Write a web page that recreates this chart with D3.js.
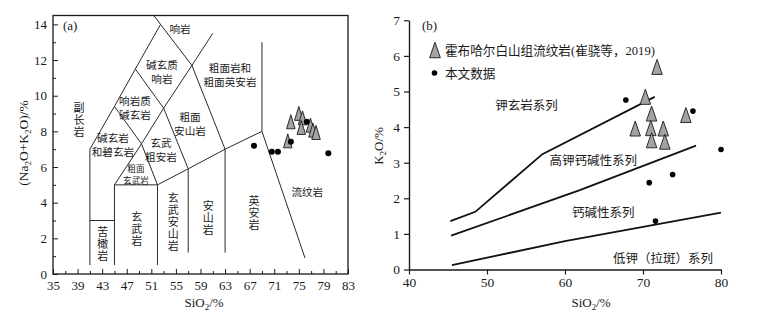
<!DOCTYPE html>
<html><head><meta charset="utf-8">
<script src="https://cdn.jsdelivr.net/npm/d3@7/dist/d3.min.js"></script>
<style>
body{margin:0;background:#fff;}
text{font-family:"Liberation Serif","Noto Sans CJK SC",serif;fill:#1a1a1a;}
.cjk{font-family:"Noto Sans CJK SC",sans-serif;}
.vert{writing-mode:vertical-rl;text-orientation:upright;}
</style></head>
<body>
<svg id="c" width="759" height="321"></svg>
<script>
// ---------- Data: chart (a) TAS ----------
const tasTriSiO2 = [73.7, 75.0, 75.6, 75.4, 76.9, 77.3, 77.8, 73.2];
const tasTriAlk  = [8.54, 9.01, 8.76, 8.22, 8.35, 8.07, 7.94, 7.47];
const tasDotSiO2 = [67.7, 70.6, 71.6, 73.7, 76.3, 79.8];
const tasDotAlk  = [7.19, 6.86, 6.86, 7.42, 8.54, 6.77];
const tasXTicks = [35,39,43,47,51,55,59,63,67,71,75,79,83];
const tasYTicks = [0,2,4,6,8,10,12,14];
// TAS field boundaries (SiO2, Na2O+K2O)
const tasBoundaries = [
  [[41,0.5],[41,7],[45,9.4],[48.4,11.5],[52.5,14]],
  [[41,3],[45,3]],
  [[45,0.5],[45,5],[52,5],[52,0.5]],
  [[45,5],[49.4,7.3],[52,5]],
  [[45,9.4],[49.4,7.3],[53,9.3],[57.6,11.7],[61,13.5]],
  [[48.4,11.5],[53,9.3],[57,5.9]],
  [[51.4,14.5],[52.5,14],[57.6,11.7],[63,7]],
  [[52,5],[57,5.9],[63,7],[69,8],[69,13]],
  [[57,5.9],[57,1.2]],
  [[63,7],[63,1.2]],
  [[69,8],[76,0.9]]
];
const tasFieldNames = ["响岩","碱玄质|响岩","副长岩","响岩质|碱玄岩","粗面|安山岩","碱玄岩|和碧玄岩",
  "玄武|粗安岩","粗面|玄武岩","苦橄岩","玄武岩","玄武安山岩","安山岩","英安岩","流纹岩","粗面岩和|粗面英安岩"];
const tasFieldVertical = [false,false,true,false,false,false,false,false,true,true,true,true,true,false,false];
const tasFieldAt = [[55.66,13.73],[52.73,11.3],[39.23,8.63],[48.34,9.3],[57.29,8.41],[44.76,7.23],
  [52.57,6.97],[48.5,5.55],[43.09,1.66],[48.62,2.49],[54.57,2.89],[60.27,3.12],[67.7,3.40],[76.38,4.61],[63.8,11.15]];

// ---------- Data: chart (b) K2O-SiO2 ----------
const kTriSiO2 = [71.8, 70.3, 71.1, 69.0, 71.0, 72.6, 71.1, 72.8, 75.5];
const kTriK2O  = [5.69, 4.85, 4.38, 3.96, 3.97, 3.96, 3.63, 3.59, 4.34];
const kDotSiO2 = [67.8, 76.4, 80.0, 73.8, 70.8, 71.6];
const kDotK2O  = [4.76, 4.45, 3.37, 2.67, 2.44, 1.36];
const kXTicks = [40,50,60,70,80];
const kYTicks = [0,1,2,3,4,5,6,7];
const kBoundaries = [
  [[45.3,1.36],[48.5,1.62],[57.1,3.24],[71.5,4.85]],
  [[45.4,0.95],[61.9,2.23],[76.8,3.48]],
  [[45.5,0.12],[60,0.8],[80,1.6]]
];
const kSeriesNames = ["钾玄岩系列","高钾钙碱性系列","钙碱性系列","低钾（拉斑）系列"];
const kSeriesAt = [[55.06,4.62],[63.63,3.07],[64.91,1.59],[72.56,0.31]];
const legendNames = ["霍布哈尔白山组流纹岩(崔骁等，2019)","本文数据"];

const svg = d3.select("#c");
const triFill = "#a3a3a3";
const labelFill = "#444";
function tri(cx, cy, w, h){
  return `M${cx},${cy-h/2}L${cx+w/2},${cy+h/2}L${cx-w/2},${cy+h/2}Z`;
}

// ================= Chart (a) =================
const xA = d3.scaleLinear().domain([35,83]).range([53,348]);
const yA = d3.scaleLinear().domain([0,14.5]).range([274,15.5]);
const gA = svg.append("g");

// minor ticks
gA.append("g").attr("transform","translate(0,274)")
  .call(d3.axisBottom(xA).tickValues(d3.range(37,83,4)).tickSize(-3).tickFormat(""))
  .call(g=>g.select(".domain").remove());
gA.append("g").attr("transform","translate(53,0)")
  .call(d3.axisLeft(yA).tickValues(d3.range(1,15,2)).tickSize(-3).tickFormat(""))
  .call(g=>g.select(".domain").remove());
// major axes
const axAx = gA.append("g").attr("transform","translate(0,274)")
  .call(d3.axisBottom(xA).tickValues(tasXTicks).tickSize(-5).tickPadding(7).tickFormat(d3.format("d")));
const axAy = gA.append("g").attr("transform","translate(53,0)")
  .call(d3.axisLeft(yA).tickValues(tasYTicks).tickSize(-5).tickPadding(6).tickFormat(d3.format("d")));
[axAx,axAy].forEach(a=>{a.selectAll("text").style("font-size","13px").style("font-family","Liberation Serif").attr("fill","#1a1a1a");
  a.select(".domain").remove();});
gA.selectAll(".tick line").attr("stroke","#1a1a1a");
// frame
gA.append("rect").attr("x",xA(35)).attr("y",yA(14.5)).attr("width",xA(83)-xA(35)).attr("height",yA(0)-yA(14.5))
  .attr("fill","none").attr("stroke","#1a1a1a").attr("stroke-width",1.3);

const lineA = d3.line().x(d=>xA(d[0])).y(d=>yA(d[1]));
gA.selectAll("path.bd").data(tasBoundaries).join("path").attr("class","bd")
  .attr("d",lineA).attr("fill","none").attr("stroke","#2a2a2a").attr("stroke-width",1);

// field names
tasFieldNames.forEach((name,i)=>{
  const [sx,sy] = tasFieldAt[i];
  if (tasFieldVertical[i]) {
    gA.append("text").attr("class","cjk vert").attr("x",xA(sx)).attr("y",yA(sy))
      .attr("text-anchor","middle").style("font-size","11px").style("letter-spacing","1px")
      .attr("fill",labelFill).text(name);
    return;
  }
  const parts = name.split("|");
  const small = name==="粗面|玄武岩";
  const lh = small ? 12.6 : 14;
  const cy = yA(sy);
  const t = gA.append("text").attr("class","cjk").attr("text-anchor","middle")
    .style("font-size", small?"8.6px":"10.6px").attr("fill",labelFill);
  parts.forEach((p,j)=>{
    t.append("tspan").attr("x",xA(sx)).attr("y",cy+(j-(parts.length-1)/2)*lh).attr("dy","0.36em").text(p);
  });
});

// data marks
gA.selectAll("path.tri").data(tasTriSiO2).join("path").attr("class","tri")
  .attr("d",(d,i)=>tri(xA(d),yA(tasTriAlk[i]),8.5,14)).attr("fill",triFill).attr("stroke","#1a1a1a").attr("stroke-width",0.9);
gA.selectAll("circle.dot").data(tasDotSiO2).join("circle").attr("class","dot")
  .attr("cx",d=>xA(d)).attr("cy",(d,i)=>yA(tasDotAlk[i])).attr("r",3).attr("fill","#000");

gA.append("text").attr("x",63).attr("y",30).style("font-size","13px").text("(a)");
// axis titles
const tAx = gA.append("text").attr("x",204).attr("y",307).attr("text-anchor","middle").style("font-size","13px");
tAx.append("tspan").text("SiO");
tAx.append("tspan").attr("dy",3).style("font-size","9px").text("2");
tAx.append("tspan").attr("dy",-3).text("/%");
const tAy = gA.append("text").attr("transform","translate(28,143) rotate(-90)").attr("text-anchor","middle").style("font-size","13.5px");
tAy.append("tspan").text("(Na");
tAy.append("tspan").attr("dy",3).style("font-size","9px").text("2");
tAy.append("tspan").attr("dy",-3).text("O+K");
tAy.append("tspan").attr("dy",3).style("font-size","9px").text("2");
tAy.append("tspan").attr("dy",-3).text("O)/%");

// ================= Chart (b) =================
const xB = d3.scaleLinear().domain([40,80]).range([409,721]);
const yB = d3.scaleLinear().domain([0,7]).range([269.5,20.3]);
const gB = svg.append("g");
const axBx = gB.append("g").attr("transform","translate(0,269.5)")
  .call(d3.axisBottom(xB).tickValues(kXTicks).tickSizeInner(5).tickSizeOuter(0).tickPadding(3).tickFormat(d3.format("d")));
const axBy = gB.append("g").attr("transform","translate(409,0)")
  .call(d3.axisLeft(yB).tickValues(kYTicks).tickSizeInner(5).tickSizeOuter(0).tickPadding(4).tickFormat(d3.format("d")));
[axBx,axBy].forEach(a=>{a.selectAll("text").style("font-size","13.5px").style("font-family","Liberation Serif").attr("fill","#1a1a1a");
  a.selectAll("line").attr("stroke","#1a1a1a").attr("stroke-width",1.2);
  a.select(".domain").attr("stroke","#1a1a1a").attr("stroke-width",1.4);});

const lineB = d3.line().x(d=>xB(d[0])).y(d=>yB(d[1]));
gB.selectAll("path.bd").data(kBoundaries).join("path").attr("class","bd")
  .attr("d",lineB).attr("fill","none").attr("stroke","#111").attr("stroke-width",1.8);

kSeriesNames.forEach((n,i)=>{
  gB.append("text").attr("class","cjk").attr("x",xB(kSeriesAt[i][0])).attr("y",yB(kSeriesAt[i][1])).attr("dy","0.36em")
    .attr("text-anchor","middle").style("font-size","12.5px").attr("fill",labelFill).text(n);
});

gB.selectAll("path.tri").data(kTriSiO2).join("path").attr("class","tri")
  .attr("d",(d,i)=>tri(xB(d),yB(kTriK2O[i]),10.5,15)).attr("fill",triFill).attr("stroke","#1a1a1a").attr("stroke-width",0.9);
gB.selectAll("circle.dot").data(kDotSiO2).join("circle").attr("class","dot")
  .attr("cx",d=>xB(d)).attr("cy",(d,i)=>yB(kDotK2O[i])).attr("r",2.8).attr("fill","#000");

gB.append("text").attr("x",422).attr("y",30).style("font-size","13px").text("(b)");
// legend
gB.append("path").attr("d",tri(435,50,10.7,15.5)).attr("fill",triFill).attr("stroke","#1a1a1a").attr("stroke-width",0.9);
gB.append("text").attr("x",445).attr("y",50).attr("dy","0.36em").style("font-size","12.6px").attr("fill","#222").text(legendNames[0]);
gB.append("circle").attr("cx",434.5).attr("cy",73).attr("r",2.8).attr("fill","#000");
gB.append("text").attr("class","cjk").attr("x",445).attr("y",73).attr("dy","0.36em").style("font-size","12.6px").attr("fill","#222").text(legendNames[1]);

const tBx = gB.append("text").attr("x",591).attr("y",307).attr("text-anchor","middle").style("font-size","13px");
tBx.append("tspan").text("SiO");
tBx.append("tspan").attr("dy",3).style("font-size","9px").text("2");
tBx.append("tspan").attr("dy",-3).text("/%");
const tBy = gB.append("text").attr("transform","translate(383,146) rotate(-90)").attr("text-anchor","middle").style("font-size","13px");
tBy.append("tspan").text("K");
tBy.append("tspan").attr("dy",3).style("font-size","9px").text("2");
tBy.append("tspan").attr("dy",-3).text("O/%");
</script>
</body></html>
